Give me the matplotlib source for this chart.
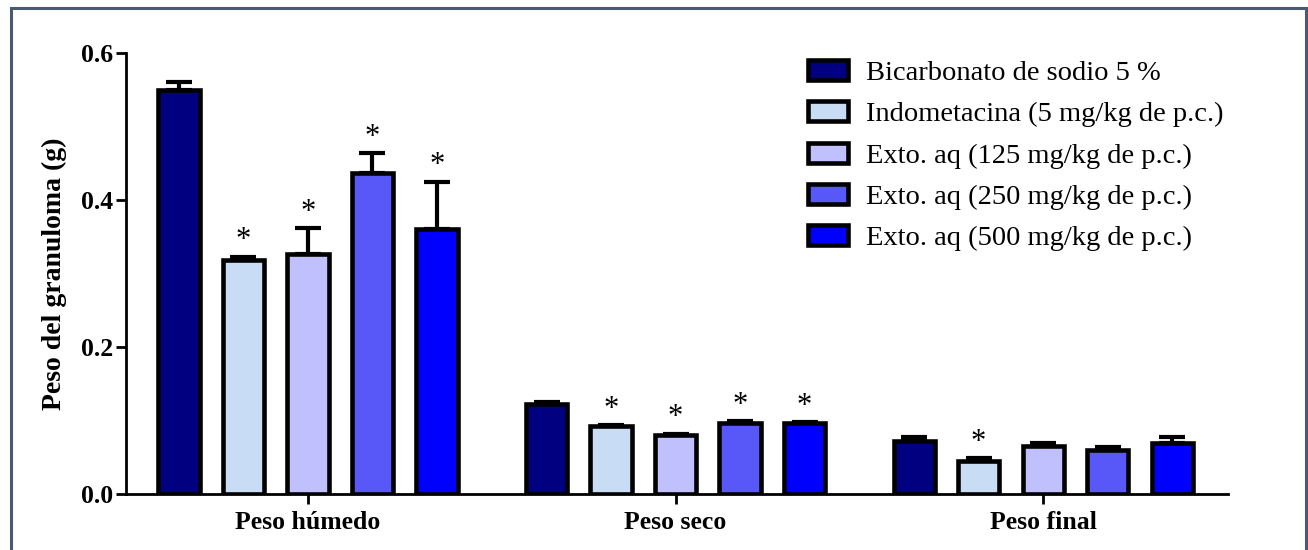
import numpy as np
import matplotlib
matplotlib.use('Agg')
import matplotlib.pyplot as plt
from matplotlib.patches import Rectangle

plt.rcParams['font.family'] = ['Liberation Serif', 'DejaVu Serif']

# Datos
grupos = ['Peso húmedo', 'Peso seco', 'Peso final']
tratamientos = ['Bicarbonato de sodio 5 %',
                'Indometacina (5 mg/kg de p.c.)',
                'Exto. aq (125 mg/kg de p.c.)',
                'Exto. aq (250 mg/kg de p.c.)',
                'Exto. aq (500 mg/kg de p.c.)']
colores = ['#000080', '#C8DCF5', '#C0C0FF', '#5858F8', '#0000FF']

bicarbonato = [0.549, 0.122, 0.072]
indometacina = [0.318, 0.092, 0.045]
ext125 = [0.327, 0.080, 0.065]
ext250 = [0.437, 0.097, 0.060]
ext500 = [0.361, 0.096, 0.070]

err_bicarbonato = [0.012, 0.003, 0.006]
err_indometacina = [0.005, 0.002, 0.004]
err_ext125 = [0.035, 0.002, 0.004]
err_ext250 = [0.027, 0.002, 0.004]
err_ext500 = [0.064, 0.002, 0.007]

# asteriscos (significancia)
sig_bicarbonato = [False, False, False]
sig_indometacina = [True, True, True]
sig_ext125 = [True, True, False]
sig_ext250 = [True, True, False]
sig_ext500 = [True, True, False]

valores = [bicarbonato, indometacina, ext125, ext250, ext500]
errores = [err_bicarbonato, err_indometacina, err_ext125, err_ext250, err_ext500]
signif = [sig_bicarbonato, sig_indometacina, sig_ext125, sig_ext250, sig_ext500]

fig = plt.figure(figsize=(13.08, 5.5), dpi=100)
ax = fig.add_axes([126 / 1308, 1 - 494 / 550, (1228 - 126) / 1308, (494 - 53) / 550])

x = np.arange(len(grupos))
paso = 0.1755
ancho = 0.112

for i in range(5):
    pos = x + (i - 2) * paso
    ax.bar(pos, valores[i], width=ancho, color=colores[i], edgecolor='black',
           linewidth=3.3, label=tratamientos[i], zorder=3)
    ax.errorbar(pos, valores[i], yerr=[np.zeros(3), errores[i]], fmt='none',
                ecolor='black', elinewidth=3, capsize=9.5, capthick=3, zorder=2)
    for j in range(3):
        if signif[i][j]:
            ax.annotate('*', (pos[j], valores[i][j] + errores[i][j]),
                        xytext=(0, 1), textcoords='offset points',
                        ha='center', va='bottom', fontsize=22)

ax.set_xlim(-0.495, 2.503)
ax.set_ylim(0, 0.6)
ax.set_yticks([0.0, 0.2, 0.4, 0.6])
ax.set_yticklabels(['0.0', '0.2', '0.4', '0.6'], fontsize=18.5, fontweight='bold')
ax.set_xticks(x)
ax.set_xticklabels(grupos, fontsize=18.5, fontweight='bold')
ax.set_ylabel('Peso del granuloma (g)', fontsize=20, fontweight='bold', labelpad=10)

ax.spines['top'].set_visible(False)
ax.spines['right'].set_visible(False)
for s in ['left', 'bottom']:
    ax.spines[s].set_linewidth(2)
ax.tick_params(axis='both', width=2, length=7, direction='out', pad=2)
ax.tick_params(axis='x', pad=5)

ax.legend(loc='upper left', bbox_to_anchor=(808 / 1308, 1 - 60 / 550),
          bbox_transform=fig.transFigure, frameon=False, fontsize=20.5,
          handlelength=1.4, handleheight=0.7, labelspacing=0.54,
          handletextpad=0.65, borderpad=0, borderaxespad=0)
for h in ax.get_legend().legend_handles:
    h.set_linewidth(3.3)

# marco
fig.patches.append(Rectangle((10.5 / 1308, -0.1), (1306 - 10.5) / 1308, 1.1 - 8 / 550,
                             transform=fig.transFigure, fill=False,
                             edgecolor='#4a5a72', linewidth=2.2, clip_on=False))

fig.savefig('out.png', dpi=100)
